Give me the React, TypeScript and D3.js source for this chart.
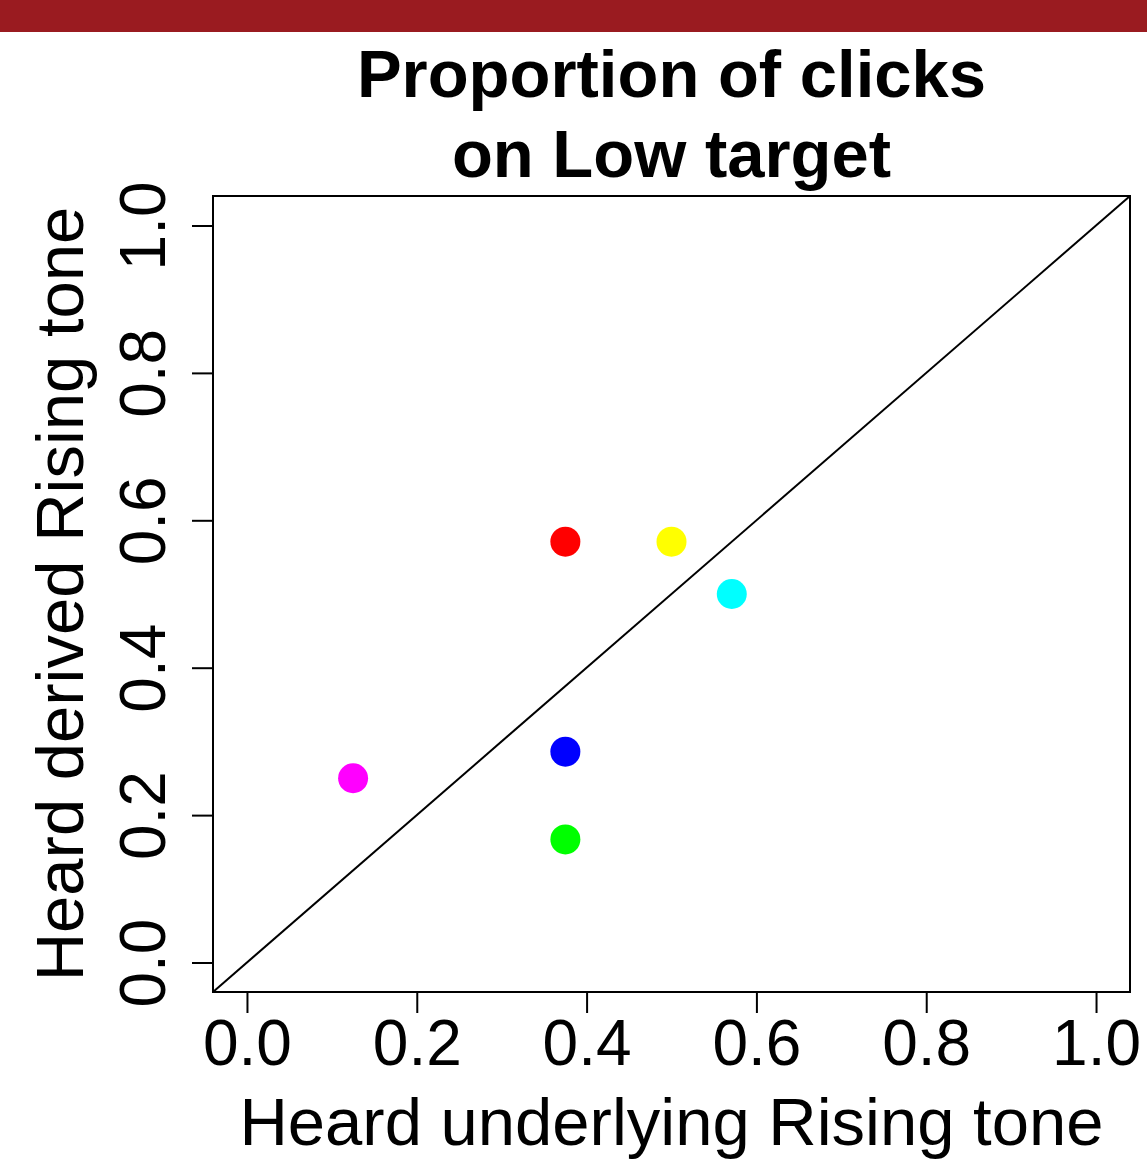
import * as d3 from 'd3';
import React, { useRef, useEffect } from 'react';

const titleLines = ['Proportion of clicks', 'on Low target'];
const xLabel = 'Heard underlying Rising tone';
const yLabel = 'Heard derived Rising tone';
const tickValues = [0, 0.2, 0.4, 0.6, 0.8, 1.0];

// one point per condition
const underlying = [0.375, 0.5, 0.571, 0.375, 0.375, 0.125];
const derived = [0.571, 0.571, 0.5, 0.286, 0.167, 0.25];
const pointColors = ['#ff0000', '#ffff00', '#00ffff', '#0000ff', '#00ff00', '#ff00ff'];

const width = 1147;
const height = 1163;
const left = 213;
const right = 1130;
const top = 196;
const bottom = 992;
const font = '"Liberation Sans", Arial, sans-serif';
const fontSize = 67;
const tickFontSize = 64;

function App() {
  const svgRef = useRef<SVGSVGElement>(null);

  useEffect(() => {
    const svg = d3.select(svgRef.current);
    svg.selectAll('*').remove();

    const xScale = d3.scaleLinear().domain([-0.04, 1.04]).range([left, right]);
    const yScale = d3.scaleLinear().domain([-0.04, 1.04]).range([bottom, top]);

    // header band
    svg.append('rect').attr('x', 0).attr('y', 0).attr('width', width).attr('height', 32).attr('fill', '#9a1b20');

    svg
      .selectAll('.title')
      .data(titleLines)
      .join('text')
      .attr('class', 'title')
      .attr('x', (left + right) / 2)
      .attr('y', (d, i) => 97 + i * 80)
      .attr('text-anchor', 'middle')
      .style('font-family', font)
      .style('font-weight', 'bold')
      .style('font-size', fontSize + 'px')
      .text((d) => d);

    // diagonal y = x
    svg
      .append('line')
      .attr('x1', xScale(-0.04))
      .attr('y1', yScale(-0.04))
      .attr('x2', xScale(1.04))
      .attr('y2', yScale(1.04))
      .attr('stroke', '#000')
      .attr('stroke-width', 2);

    svg
      .selectAll('.pt')
      .data(underlying)
      .join('circle')
      .attr('class', 'pt')
      .attr('cx', (d) => xScale(d))
      .attr('cy', (d, i) => yScale(derived[i]))
      .attr('r', 15)
      .attr('fill', (d, i) => pointColors[i]);

    svg
      .append('rect')
      .attr('x', left)
      .attr('y', top)
      .attr('width', right - left)
      .attr('height', bottom - top)
      .attr('fill', 'none')
      .attr('stroke', '#000')
      .attr('stroke-width', 2);

    const xAxis = d3.axisBottom(xScale).tickValues(tickValues).tickSize(21).tickFormat(d3.format('.1f'));
    const gx = svg.append('g').attr('transform', `translate(0,${bottom})`).call(xAxis);
    gx.select('.domain').attr('d', `M${xScale(0)},0H${xScale(1)}`).attr('stroke-width', 2);
    gx.selectAll('.tick line').attr('stroke-width', 2);
    gx.selectAll('.tick text')
      .attr('dy', null)
      .attr('y', 73)
      .style('font-family', font)
      .style('font-size', tickFontSize + 'px');

    const yAxis = d3.axisLeft(yScale).tickValues(tickValues).tickSize(21).tickFormat(d3.format('.1f'));
    const gy = svg.append('g').attr('transform', `translate(${left},0)`).call(yAxis);
    gy.select('.domain').attr('d', `M0,${yScale(0)}V${yScale(1)}`).attr('stroke-width', 2);
    gy.selectAll('.tick line').attr('stroke-width', 2);
    gy.selectAll('.tick text')
      .attr('x', null)
      .attr('dy', null)
      .attr('text-anchor', 'middle')
      .attr('transform', `translate(${165 - left},0) rotate(-90)`)
      .style('font-family', font)
      .style('font-size', tickFontSize + 'px');
    svg.selectAll('.domain').attr('stroke', '#000');

    svg
      .append('text')
      .attr('x', (left + right) / 2)
      .attr('y', 1145)
      .attr('text-anchor', 'middle')
      .style('font-family', font)
      .style('font-size', fontSize + 'px')
      .text(xLabel);

    svg
      .append('text')
      .attr('transform', `translate(83,${(top + bottom) / 2}) rotate(-90)`)
      .attr('text-anchor', 'middle')
      .style('font-family', font)
      .style('font-size', fontSize + 'px')
      .text(yLabel);
  }, []);

  return (
    <svg
      ref={svgRef}
      width={width}
      height={height}
      style={{ position: 'absolute', left: 0, top: 0, background: '#fff' }}
    />
  );
}

export default App;
